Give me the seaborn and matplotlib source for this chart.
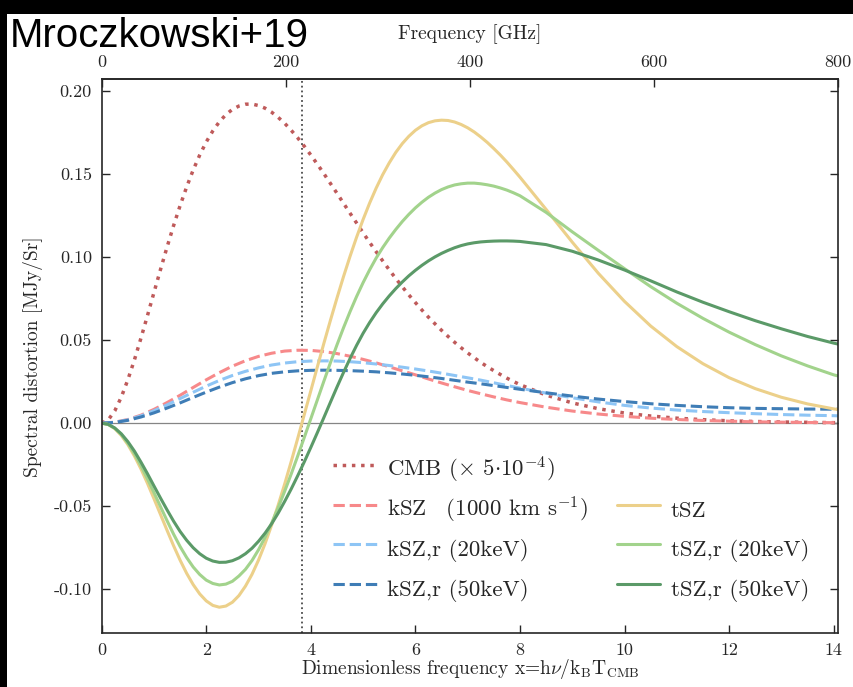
import matplotlib
matplotlib.use("Agg")
import matplotlib.pyplot as plt
from matplotlib.lines import Line2D
from matplotlib.patches import Rectangle
from matplotlib.ticker import FormatStrFormatter
import seaborn as sns

# Dimensionless frequency grids x = h nu / k_B T_CMB
x_fine = [0, 0.125, 0.25, 0.375, 0.5, 0.625, 0.75, 0.875, 1.0,
          1.125, 1.25, 1.375, 1.5, 1.625, 1.75, 1.875, 2.0,
          2.125, 2.25, 2.375, 2.5, 2.625, 2.75, 2.875, 3.0,
          3.125, 3.25, 3.375, 3.5, 3.625, 3.75, 3.875, 4.0,
          4.125, 4.25, 4.375, 4.5, 4.625, 4.75, 4.875, 5.0,
          5.125, 5.25, 5.375, 5.5, 5.625, 5.75, 5.875, 6.0,
          6.125, 6.25, 6.375, 6.5, 6.625, 6.75, 6.875, 7.0,
          7.125, 7.25, 7.375, 7.5, 7.625, 7.75, 7.875, 8.0,
          8.5, 9.0, 9.5, 10.0, 10.5, 11.0, 11.5, 12.0, 12.5, 13.0, 13.5, 14.0, 14.1]

x_coarse = [0, 0.25, 0.5, 0.75, 1.0, 1.25, 1.5, 1.75, 2.0, 2.25, 2.5, 2.75, 3.0,
            3.25, 3.5, 3.75, 4.0, 4.25, 4.5, 4.75, 5.0, 5.25, 5.5, 5.75, 6.0,
            6.25, 6.5, 6.75, 7.0, 7.25, 7.5, 7.75, 8.0, 8.5, 9.0, 9.5, 10.0,
            10.5, 11.0, 11.5, 12.0, 12.5, 13.0, 13.5, 14.0, 14.1]

# Spectral distortions [MJy/Sr] on x_fine
cmb = [0, 0.0020, 0.0074, 0.0157, 0.0261, 0.0380, 0.0511, 0.0647, 0.0787,
       0.0925, 0.1060, 0.1189, 0.1310, 0.1422, 0.1524, 0.1614, 0.1693,
       0.1759, 0.1814, 0.1857, 0.1889, 0.1909, 0.1920, 0.1921, 0.1912,
       0.1896, 0.1872, 0.1841, 0.1805, 0.1763, 0.1717, 0.1667, 0.1614,
       0.1559, 0.1502, 0.1443, 0.1384, 0.1324, 0.1264, 0.1205, 0.1146,
       0.1088, 0.1032, 0.0977, 0.0923, 0.0871, 0.0821, 0.0772, 0.0726,
       0.0681, 0.0638, 0.0598, 0.0559, 0.0522, 0.0487, 0.0454, 0.0423,
       0.0394, 0.0366, 0.0340, 0.0316, 0.0293, 0.0271, 0.0251, 0.0232,
       0.0169, 0.0122, 0.0087, 0.0061, 0.0043, 0.0030, 0.0021, 0.0014,
       0.0010, 0.0007, 0.0005, 0.0003, 0.0003]

tsz = [0, -0.0008, -0.0033, -0.0074, -0.0129, -0.0197, -0.0275, -0.0362, -0.0455,
       -0.0550, -0.0645, -0.0738, -0.0825, -0.0904, -0.0972, -0.1028, -0.1070,
       -0.1097, -0.1108, -0.1101, -0.1078, -0.1038, -0.0981, -0.0910, -0.0824,
       -0.0725, -0.0614, -0.0494, -0.0366, -0.0231, -0.0091, 0.0052, 0.0195,
       0.0339, 0.0481, 0.0619, 0.0753, 0.0882, 0.1004, 0.1119, 0.1226,
       0.1325, 0.1415, 0.1496, 0.1567, 0.1630, 0.1683, 0.1727, 0.1763,
       0.1790, 0.1809, 0.1820, 0.1824, 0.1822, 0.1813, 0.1798, 0.1778,
       0.1753, 0.1723, 0.1690, 0.1653, 0.1614, 0.1572, 0.1527, 0.1481,
       0.1287, 0.1090, 0.0902, 0.0733, 0.0585, 0.0461, 0.0358, 0.0274,
       0.0208, 0.0156, 0.0116, 0.0086, 0.0081]

tsz_r20 = [0, -0.0008, -0.0031, -0.0069, -0.0121, -0.0184, -0.0256, -0.0335, -0.0418,
           -0.0503, -0.0587, -0.0668, -0.0743, -0.0809, -0.0866, -0.0911, -0.0945,
           -0.0965, -0.0974, -0.0969, -0.0952, -0.0920, -0.0880, -0.0827, -0.0762,
           -0.0687, -0.0602, -0.0509, -0.0410, -0.0306, -0.0197, -0.0086, 0.0027,
           0.0140, 0.0253, 0.0364, 0.0471, 0.0574, 0.0671, 0.0762, 0.0846,
           0.0923, 0.0994, 0.1057, 0.1114, 0.1166, 0.1214, 0.1257, 0.1296,
           0.1330, 0.1360, 0.1385, 0.1406, 0.1422, 0.1434, 0.1441, 0.1445,
           0.1445, 0.1441, 0.1435, 0.1427, 0.1416, 0.1403, 0.1387, 0.1369,
           0.1269, 0.1152, 0.1040, 0.0930, 0.0822, 0.0722, 0.0631, 0.0548,
           0.0473, 0.0405, 0.0345, 0.0291, 0.0283]

tsz_r50 = [0, -0.0007, -0.0029, -0.0064, -0.0111, -0.0168, -0.0234, -0.0304, -0.0378,
           -0.0451, -0.0522, -0.0590, -0.0652, -0.0705, -0.0750, -0.0786, -0.0813,
           -0.0830, -0.0838, -0.0837, -0.0828, -0.0811, -0.0786, -0.0753, -0.0711,
           -0.0662, -0.0606, -0.0542, -0.0471, -0.0396, -0.0316, -0.0233, -0.0146,
           -0.0057, 0.0034, 0.0126, 0.0217, 0.0305, 0.0389, 0.0468, 0.0541,
           0.0606, 0.0665, 0.0718, 0.0766, 0.0810, 0.0850, 0.0887, 0.0920,
           0.0950, 0.0977, 0.1001, 0.1022, 0.1040, 0.1056, 0.1069, 0.1079,
           0.1086, 0.1091, 0.1094, 0.1096, 0.1097, 0.1097, 0.1096, 0.1094,
           0.1075, 0.1035, 0.0982, 0.0922, 0.0857, 0.0790, 0.0728, 0.0671,
           0.0617, 0.0568, 0.0522, 0.0482, 0.0475]

# Kinematic terms [MJy/Sr] on x_coarse
ksz = [0, 0.0006, 0.0022, 0.0048, 0.0083, 0.0124, 0.0168, 0.0215, 0.0261, 0.0304,
       0.0343, 0.0376, 0.0402, 0.0421, 0.0434, 0.0439, 0.0438, 0.0431, 0.0419,
       0.0403, 0.0384, 0.0363, 0.0339, 0.0315, 0.0291, 0.0266, 0.0242, 0.0219,
       0.0197, 0.0177, 0.0158, 0.0140, 0.0124, 0.0096, 0.0073, 0.0055, 0.0041,
       0.0030, 0.0022, 0.0016, 0.0012, 0.0008, 0.0006, 0.0004, 0.0003, 0.0003]

ksz_r20 = [0, 0.0005, 0.0020, 0.0044, 0.0075, 0.0110, 0.0148, 0.0186, 0.0223,
           0.0257, 0.0287, 0.0312, 0.0333, 0.0350, 0.0362, 0.0370, 0.0374, 0.0375,
           0.0374, 0.0370, 0.0364, 0.0356, 0.0347, 0.0337, 0.0326, 0.0314, 0.0301,
           0.0287, 0.0273, 0.0259, 0.0243, 0.0227, 0.0211, 0.0181, 0.0153, 0.0128,
           0.0107, 0.0091, 0.0079, 0.0070, 0.0063, 0.0057, 0.0052, 0.0048, 0.0045,
           0.0044]

ksz_r50 = [0, 0.0004, 0.0017, 0.0037, 0.0062, 0.0091, 0.0122, 0.0155, 0.0187,
           0.0217, 0.0244, 0.0267, 0.0286, 0.0300, 0.0309, 0.0315, 0.0318, 0.0319,
           0.0318, 0.0316, 0.0313, 0.0309, 0.0303, 0.0296, 0.0288, 0.0279, 0.0269,
           0.0258, 0.0247, 0.0237, 0.0226, 0.0215, 0.0204, 0.0183, 0.0163, 0.0145,
           0.0130, 0.0117, 0.0107, 0.0099, 0.0093, 0.0089, 0.0087, 0.0085, 0.0084,
           0.0084]

labels = [r"CMB ($\times$ 5$\cdot$10$^{-4}$)",
          r"kSZ$\quad$(1000 km s$^{-1}$)",
          "kSZ,r (20keV)",
          "kSZ,r (50keV)",
          "tSZ",
          "tSZ,r (20keV)",
          "tSZ,r (50keV)"]

GHZ_PER_X = 56.78        # k_B T_CMB / h in GHz
NULL_GHZ = 217.0         # tSZ null frequency
FREQ_TICKS = [0, 200, 400, 600, 800]

sns.set_style("ticks")
plt.rcParams.update({
    "font.family": "serif",
    "font.serif": ["cmr10"],
    "mathtext.fontset": "cm",
    "axes.unicode_minus": False,
    "axes.formatter.use_mathtext": False,
    "axes.linewidth": 1.2,
})

W, H = 854, 687
fig = plt.figure(figsize=(W / 100, H / 100), dpi=100, facecolor="white")

# dark frame strips along the top and left edges
fig.patches.append(Rectangle((0, 1 - 14 / H), 1, 14 / H, transform=fig.transFigure,
                             facecolor="black", edgecolor="none", zorder=-5))
fig.patches.append(Rectangle((0, 0), 7 / W, 1, transform=fig.transFigure,
                             facecolor="black", edgecolor="none", zorder=-5))

left, right, top, bottom = 101.7, 838.3, 79.3, 633.3
ax = fig.add_axes([left / W, (H - bottom) / H, (right - left) / W, (bottom - top) / H])

ax.axhline(0, color="#858585", lw=0.9, zorder=1)
ax.axvline(NULL_GHZ / GHZ_PER_X, color="#4a4a4a", ls=":", lw=1.3, zorder=1)

series = [
    (x_fine, cmb, ":", "#bf5a5a", 2.5),
    (x_coarse, ksz, "--", "#f7898a", 2.2),
    (x_coarse, ksz_r20, "--", "#8ec5f5", 2.2),
    (x_coarse, ksz_r50, "--", "#3f7db6", 2.2),
    (x_fine, tsz, "-", "#ecd08a", 2.2),
    (x_fine, tsz_r20, "-", "#a2d38c", 2.2),
    (x_fine, tsz_r50, "-", "#5b9a68", 2.2),
]
for (xs, vals, ls, col, lw), lab in zip(series, labels):
    sns.lineplot(x=xs, y=vals, ax=ax, color=col, linestyle=ls, lw=lw,
                 label=lab, sort=False, estimator=None, zorder=2)

ax.set_xlim(0, 800 / GHZ_PER_X)
ax.set_ylim(-0.1265, 0.207)
ax.set_xticks([0, 2, 4, 6, 8, 10, 12, 14])
ax.set_yticks([-0.10, -0.05, 0.0, 0.05, 0.10, 0.15, 0.20])
ax.yaxis.set_major_formatter(FormatStrFormatter("%.2f"))
ax.tick_params(axis="both", direction="in", length=6, width=1.0,
               labelsize=13, pad=7, top=False, right=True)
for s in ax.spines.values():
    s.set_visible(True)
    s.set_linewidth(1.2)

ax.set_xlabel(r"Dimensionless frequency x=h$\nu$/k$_{\rm B}$T$_{\rm CMB}$",
              fontsize=14, labelpad=-1)
ax.set_ylabel("Spectral distortion [MJy/Sr]", fontsize=14, labelpad=8)

secax = ax.secondary_xaxis("top", functions=(lambda v: v * GHZ_PER_X,
                                              lambda f: f / GHZ_PER_X))
secax.set_xticks(FREQ_TICKS)
secax.tick_params(direction="in", length=6, width=1.0, labelsize=13, pad=7)
secax.set_xlabel("Frequency [GHz]", fontsize=14, labelpad=11)

handles, labs = ax.get_legend_handles_labels()
blank = Line2D([], [], color="none")
handles = handles[:4] + [blank] + handles[4:]
labs = labs[:4] + [""] + labs[4:]
ax.legend(handles, labs, ncol=2, frameon=False, fontsize=16.5,
          loc="upper left", bbox_to_anchor=(333 / W, 1 - 453 / H),
          bbox_transform=fig.transFigure, borderpad=0, borderaxespad=0,
          handlelength=1.9, handletextpad=0.45, columnspacing=1.28,
          handleheight=1.85, labelspacing=0.28)

fig.text(10 / W, 1 - 47 / H, "Mroczkowski+19", family="Liberation Sans",
         fontsize=29, va="baseline", ha="left", color="black")

fig.savefig("out.png", dpi=100, facecolor="white")
